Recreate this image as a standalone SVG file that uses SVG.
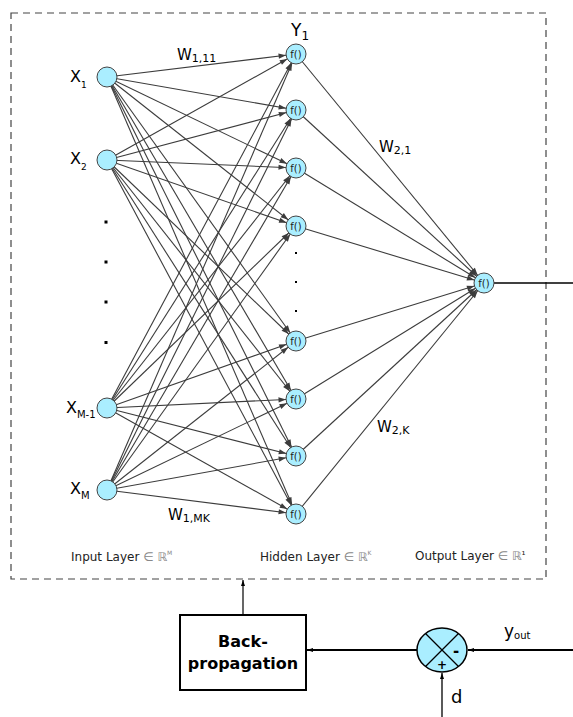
<svg xmlns="http://www.w3.org/2000/svg" width="573" height="717" viewBox="0 0 573 717">
<style>
  .t{font-family:"DejaVu Sans","Verdana",sans-serif;fill:#000}
  .lbl{font-family:"DejaVu Sans","Verdana",sans-serif;fill:#222;font-size:12px}
  .gr{fill:#888}
  .node{fill:#aaeeff;stroke:#444;stroke-width:1}
  .w{stroke:#3c3c3c;stroke-width:1.1;fill:none;marker-end:url(#ah)}
  .bk{stroke:#000;fill:none}
  .fx{font-family:"DejaVu Sans",sans-serif;font-size:10px;fill:#222;text-anchor:middle}
</style>
<defs>
  <marker id="ah" markerUnits="userSpaceOnUse" markerWidth="22" markerHeight="10" viewBox="0 0 22 10" refX="21" refY="5" orient="auto">
    <path d="M3.5,2.4 L11,5 L3.5,7.6 z" fill="#3c3c3c"/>
  </marker>
  <marker id="ab" markerUnits="userSpaceOnUse" markerWidth="8" markerHeight="8" viewBox="0 0 8 8" refX="7" refY="4" orient="auto">
    <path d="M1,2 L7,4 L1,6 z" fill="#000"/>
  </marker>
</defs>
<rect x="11" y="13" width="535" height="566" fill="none" stroke="#444" stroke-width="1.2" stroke-dasharray="7,5"/>

<g id="connectors">
  <line class="w" x1="107" y1="77" x2="296" y2="54"/>
  <line class="w" x1="107" y1="77" x2="296" y2="110"/>
  <line class="w" x1="107" y1="77" x2="296" y2="168"/>
  <line class="w" x1="107" y1="77" x2="296" y2="226"/>
  <line class="w" x1="107" y1="77" x2="296" y2="341"/>
  <line class="w" x1="107" y1="77" x2="296" y2="399"/>
  <line class="w" x1="107" y1="77" x2="296" y2="456"/>
  <line class="w" x1="107" y1="77" x2="296" y2="514"/>
  <line class="w" x1="107" y1="160" x2="296" y2="54"/>
  <line class="w" x1="107" y1="160" x2="296" y2="110"/>
  <line class="w" x1="107" y1="160" x2="296" y2="168"/>
  <line class="w" x1="107" y1="160" x2="296" y2="226"/>
  <line class="w" x1="107" y1="160" x2="296" y2="341"/>
  <line class="w" x1="107" y1="160" x2="296" y2="399"/>
  <line class="w" x1="107" y1="160" x2="296" y2="456"/>
  <line class="w" x1="107" y1="160" x2="296" y2="514"/>
  <line class="w" x1="107" y1="408" x2="296" y2="54"/>
  <line class="w" x1="107" y1="408" x2="296" y2="110"/>
  <line class="w" x1="107" y1="408" x2="296" y2="168"/>
  <line class="w" x1="107" y1="408" x2="296" y2="226"/>
  <line class="w" x1="107" y1="408" x2="296" y2="341"/>
  <line class="w" x1="107" y1="408" x2="296" y2="399"/>
  <line class="w" x1="107" y1="408" x2="296" y2="456"/>
  <line class="w" x1="107" y1="408" x2="296" y2="514"/>
  <line class="w" x1="107" y1="490" x2="296" y2="54"/>
  <line class="w" x1="107" y1="490" x2="296" y2="110"/>
  <line class="w" x1="107" y1="490" x2="296" y2="168"/>
  <line class="w" x1="107" y1="490" x2="296" y2="226"/>
  <line class="w" x1="107" y1="490" x2="296" y2="341"/>
  <line class="w" x1="107" y1="490" x2="296" y2="399"/>
  <line class="w" x1="107" y1="490" x2="296" y2="456"/>
  <line class="w" x1="107" y1="490" x2="296" y2="514"/>
  <line class="w" x1="296" y1="54" x2="484" y2="283"/>
  <line class="w" x1="296" y1="110" x2="484" y2="283"/>
  <line class="w" x1="296" y1="168" x2="484" y2="283"/>
  <line class="w" x1="296" y1="226" x2="484" y2="283"/>
  <line class="w" x1="296" y1="341" x2="484" y2="283"/>
  <line class="w" x1="296" y1="399" x2="484" y2="283"/>
  <line class="w" x1="296" y1="456" x2="484" y2="283"/>
  <line class="w" x1="296" y1="514" x2="484" y2="283"/>
  <line class="bk" stroke-width="1.5" x1="494" y1="283" x2="573" y2="283"/>
  <line class="bk" stroke-width="1.2" x1="243" y1="615" x2="243" y2="580" marker-end="url(#ab)"/>
  <line class="bk" stroke-width="2" x1="417" y1="650" x2="307" y2="650" marker-end="url(#ab)"/>
  <line class="bk" stroke-width="2" x1="573" y1="650" x2="468" y2="650" marker-end="url(#ab)"/>
  <line class="bk" stroke-width="1.3" x1="442" y1="717" x2="442" y2="673" marker-end="url(#ab)"/>
</g>

<g id="input-nodes">
  <g id="x1"><circle class="node" cx="107" cy="77" r="10"/><text class="t" x="70" y="82" font-size="16">X<tspan font-size="9" dy="6">1</tspan></text></g>
  <g id="x2"><circle class="node" cx="107" cy="160" r="10"/><text class="t" x="70" y="164" font-size="16">X<tspan font-size="9" dy="6">2</tspan></text></g>
  <g id="xm1"><circle class="node" cx="107" cy="408" r="10"/><text class="t" x="66" y="413" font-size="16">X<tspan font-size="10" dy="5">M-1</tspan></text></g>
  <g id="xm"><circle class="node" cx="107" cy="490" r="10"/><text class="t" x="70" y="494" font-size="16">X<tspan font-size="10" dy="5">M</tspan></text></g>
  <g id="input-dots" fill="#000">
    <rect x="104.5" y="220.5" width="3" height="3"/>
    <rect x="104.5" y="260.5" width="3" height="3"/>
    <rect x="104.5" y="300.5" width="3" height="3"/>
    <rect x="104.5" y="341" width="3" height="3"/>
  </g>
</g>

<g id="hidden-nodes">
  <g id="h1"><circle class="node" cx="296" cy="54" r="10"/><text class="fx" x="296" y="58">f()</text></g>
  <g id="h2"><circle class="node" cx="296" cy="110" r="10"/><text class="fx" x="296" y="114">f()</text></g>
  <g id="h3"><circle class="node" cx="296" cy="168" r="10"/><text class="fx" x="296" y="172">f()</text></g>
  <g id="h4"><circle class="node" cx="296" cy="226" r="10"/><text class="fx" x="296" y="230">f()</text></g>
  <g id="h5"><circle class="node" cx="296" cy="341" r="10"/><text class="fx" x="296" y="345">f()</text></g>
  <g id="h6"><circle class="node" cx="296" cy="399" r="10"/><text class="fx" x="296" y="403">f()</text></g>
  <g id="h7"><circle class="node" cx="296" cy="456" r="10"/><text class="fx" x="296" y="460">f()</text></g>
  <g id="h8"><circle class="node" cx="296" cy="514" r="10"/><text class="fx" x="296" y="518">f()</text></g>
  <g id="hidden-dots" fill="#000">
    <rect x="295" y="252" width="2" height="2"/>
    <rect x="295" y="281" width="2" height="2"/>
    <rect x="295" y="310" width="2" height="2"/>
  </g>
</g>

<g id="output-node"><circle class="node" cx="484" cy="283" r="10"/><text class="fx" x="484" y="287">f()</text></g>

<g id="weight-labels">
  <text class="t" x="291" y="36" font-size="17">Y<tspan font-size="12" dy="4">1</tspan></text>
  <text class="t" x="177" y="60" font-size="15">W<tspan font-size="11" dy="2">1,11</tspan></text>
  <text class="t" x="379" y="152" font-size="15">W<tspan font-size="11" dy="2">2,1</tspan></text>
  <text class="t" x="377" y="432" font-size="15">W<tspan font-size="11" dy="2">2,K</tspan></text>
  <text class="t" x="168" y="520" font-size="15">W<tspan font-size="11" dy="2">1,MK</tspan></text>
</g>

<g id="layer-labels">
  <text class="lbl" x="71" y="561">Input Layer <tspan class="gr">∈ ℝ</tspan><tspan class="gr" font-size="6" dy="-6">M</tspan></text>
  <text class="lbl" x="260" y="561">Hidden Layer <tspan class="gr">∈ ℝ</tspan><tspan class="gr" font-size="6" dy="-6">K</tspan></text>
  <text class="lbl" x="415" y="560">Output Layer <tspan class="gr">∈ ℝ</tspan><tspan font-size="10" dy="-1">¹</tspan></text>
</g>

<g id="backprop">
  <rect x="180" y="615" width="126" height="75" fill="#fff" stroke="#000" stroke-width="2"/>
  <text class="t" x="243" y="647" font-size="16" font-weight="bold" text-anchor="middle">Back-</text>
  <text class="t" x="243" y="669" font-size="16" font-weight="bold" text-anchor="middle">propagation</text>
</g>

<g id="sum-junction">
  <ellipse cx="442" cy="650" rx="25" ry="22" fill="#aaeeff" stroke="#000" stroke-width="1.5"/>
  <line class="bk" stroke-width="1.2" x1="425.5" y1="633.5" x2="458.5" y2="666.5"/>
  <line class="bk" stroke-width="1.2" x1="458.5" y1="633.5" x2="425.5" y2="666.5"/>
  <text class="t" x="456" y="656" font-size="15" font-weight="bold" text-anchor="middle">-</text>
  <text class="t" x="442" y="669" font-size="12" font-weight="bold" text-anchor="middle">+</text>
</g>

<g id="signal-labels">
  <text class="t" x="504" y="637" font-size="17">y<tspan font-size="10" dy="2">out</tspan></text>
  <text class="t" x="451" y="703" font-size="18">d</text>
</g>
</svg>
